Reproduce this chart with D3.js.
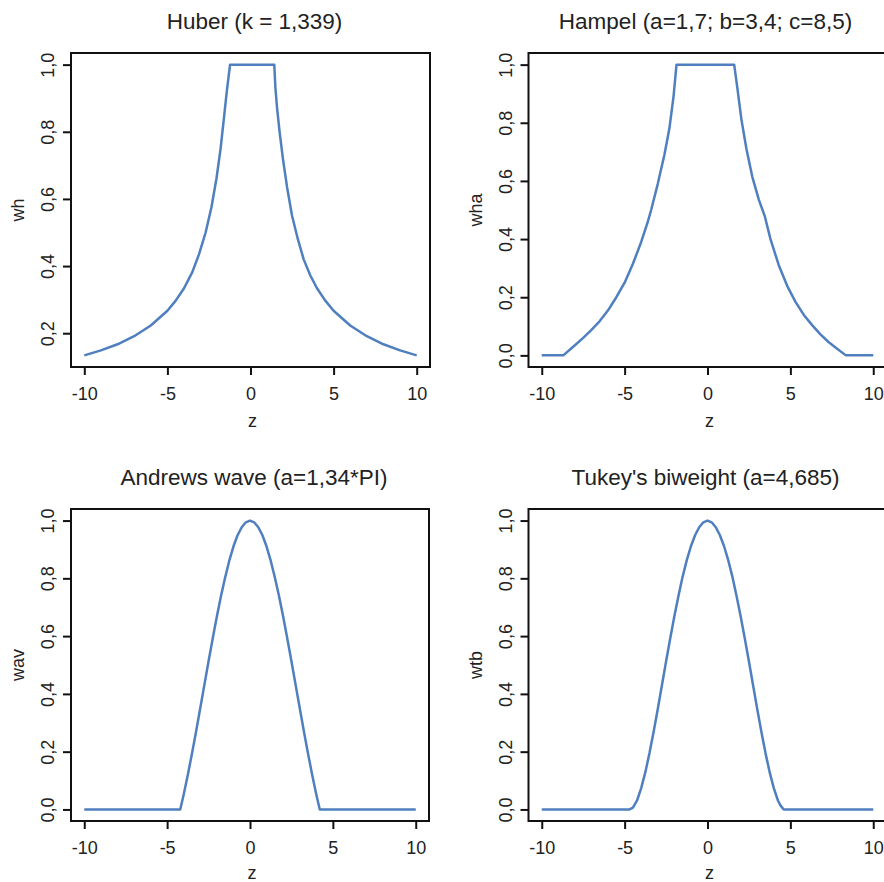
<!DOCTYPE html>
<html>
<head>
<meta charset="utf-8">
<script src="https://cdn.jsdelivr.net/npm/d3@7"></script>
<style>
  html, body { margin: 0; padding: 0; background: #fff; }
  svg { display: block; }
  text { font-family: "Liberation Sans", Arial, sans-serif; fill: #222; }
</style>
</head>
<body>
<svg id="chart" width="884" height="882"></svg>
<script>
// Weight functions of robust M-estimators, sampled along the standardized residual z.

// Huber (k = 1,339)
const zHuber = [-10, -9, -8, -7, -6, -5, -4.5, -4, -3.5, -3.1, -2.7, -2.35, -2.05, -1.8, -1.6, -1.45, -1.33, -1.23,
                1.43, 1.5, 1.6, 1.75, 1.95, 2.2, 2.5, 2.85, 3.2, 3.6, 4, 4.5, 5, 6, 7, 8, 9, 10];
const wHuber = [0.134, 0.149, 0.167, 0.191, 0.223, 0.267, 0.297, 0.334, 0.382, 0.435, 0.5, 0.575, 0.66, 0.75, 0.84, 0.91, 0.96, 1.0,
                1.0, 0.93, 0.87, 0.8, 0.72, 0.635, 0.55, 0.48, 0.42, 0.372, 0.334, 0.297, 0.267, 0.223, 0.191, 0.167, 0.149, 0.134];

// Hampel (a=1,7; b=3,4; c=8,5)
const zHampel = [-10, -8.7, -8, -7.5, -7, -6.5, -6, -5.5, -5, -4.5, -4, -3.6, -3.4, -3, -2.6, -2.3, -2.05, -1.87,
                 1.61, 1.8, 2.05, 2.35, 2.7, 3.1, 3.45, 3.8, 4.3, 4.8, 5.3, 5.8, 6.3, 6.8, 7.3, 7.8, 8.35, 10];
const wHampel = [0, 0, 0.035, 0.06, 0.088, 0.118, 0.155, 0.2, 0.25, 0.315, 0.39, 0.46, 0.5, 0.59, 0.69, 0.78, 0.89, 1.0,
                 1.0, 0.92, 0.81, 0.71, 0.615, 0.535, 0.48, 0.4, 0.31, 0.24, 0.185, 0.14, 0.105, 0.073, 0.046, 0.024, 0, 0];

// Andrews wave (a=1,34*PI)
const zAndrews = [-10, -4.21, -4, -3.75, -3.5, -3.25, -3, -2.75, -2.5, -2.25, -2, -1.75, -1.5, -1.25, -1, -0.75, -0.5, -0.25, 0,
                  0.25, 0.5, 0.75, 1, 1.25, 1.5, 1.75, 2, 2.25, 2.5, 2.75, 3, 3.25, 3.5, 3.75, 4, 4.21, 10];
const wAndrews = [0, 0, 0.052, 0.12, 0.194, 0.271, 0.351, 0.432, 0.513, 0.592, 0.668, 0.739, 0.803, 0.861, 0.91, 0.949, 0.977, 0.994, 1,
                  0.994, 0.977, 0.949, 0.91, 0.861, 0.803, 0.739, 0.668, 0.592, 0.513, 0.432, 0.351, 0.271, 0.194, 0.12, 0.052, 0, 0];

// Tukey's biweight (a=4,685)
const zTukey = [-10, -4.7, -4.5, -4.25, -4, -3.75, -3.5, -3.25, -3, -2.75, -2.5, -2.25, -2, -1.75, -1.5, -1.25, -1, -0.75, -0.5, -0.25, 0,
                0.25, 0.5, 0.75, 1, 1.25, 1.5, 1.75, 2, 2.25, 2.5, 2.75, 3, 3.25, 3.5, 3.75, 4, 4.25, 4.4, 4.6, 10];
const wTukey = [0, 0, 0.006, 0.031, 0.074, 0.129, 0.195, 0.269, 0.348, 0.43, 0.512, 0.592, 0.669, 0.74, 0.806, 0.863, 0.911, 0.949, 0.977, 0.994, 1,
                0.994, 0.977, 0.949, 0.911, 0.863, 0.806, 0.74, 0.669, 0.592, 0.512, 0.43, 0.348, 0.269, 0.195, 0.129, 0.074, 0.031, 0.014, 0, 0];

// Axis ticks
const xTicks = [-10, -5, 0, 5, 10];
const yTicksHuber = [0.2, 0.4, 0.6, 0.8, 1.0];
const yTicksUnit = [0.0, 0.2, 0.4, 0.6, 0.8, 1.0];

const titles = ["Huber (k = 1,339)", "Hampel (a=1,7; b=3,4; c=8,5)", "Andrews wave (a=1,34*PI)", "Tukey's biweight (a=4,685)"];
const yLabels = ["wh", "wha", "wav", "wtb"];
const xLabel = "z";

// Plot regions (frame of each panel)
const panels = [
  { z: zHuber,   w: wHuber,   yTicks: yTicksHuber, left: 71,    top: 53,  width: 359, height: 314, titleDx: 4,  xlabDy: 60 },
  { z: zHampel,  w: wHampel,  yTicks: yTicksUnit,  left: 528.5, top: 53,  width: 358, height: 314, titleDx: -2, xlabDy: 60 },
  { z: zAndrews, w: wAndrews, yTicks: yTicksUnit,  left: 71,    top: 509, width: 358, height: 312, titleDx: 4,  xlabDy: 58 },
  { z: zTukey,   w: wTukey,   yTicks: yTicksUnit,  left: 528.5, top: 509, width: 358, height: 312, titleDx: -2, xlabDy: 58 }
];

const locale = d3.formatLocale({ decimal: ",", thousands: ".", grouping: [3], currency: ["", ""], minus: "-" });
const fmtY = locale.format(".1f");
const fmtX = locale.format("d");

// R-style axis limits: data range extended by 4% on each side
function padded(ext) {
  const d = (ext[1] - ext[0]) * 0.04;
  return [ext[0] - d, ext[1] + d];
}

const svg = d3.select("#chart");
svg.append("rect").attr("width", 884).attr("height", 882).attr("fill", "#fff");

panels.forEach((p, i) => {
  const x = d3.scaleLinear().domain(padded(d3.extent(xTicks))).range([p.left, p.left + p.width]);
  const y = d3.scaleLinear().domain(padded(d3.extent(p.w))).range([p.top + p.height, p.top]);
  const g = svg.append("g");

  // curve
  const pts = p.z.map((z, k) => [z, p.w[k]]);
  g.append("path")
    .datum(pts)
    .attr("d", d3.line().x(d => x(d[0])).y(d => y(d[1])))
    .attr("fill", "none")
    .attr("stroke", "#4f7fbf")
    .attr("stroke-width", 2.5)
    .attr("stroke-linejoin", "round");

  // frame
  g.append("rect")
    .attr("x", p.left).attr("y", p.top)
    .attr("width", p.width).attr("height", p.height)
    .attr("fill", "none").attr("stroke", "#111").attr("stroke-width", 2);

  // x axis
  const ax = g.append("g")
    .attr("transform", `translate(0,${p.top + p.height})`)
    .call(d3.axisBottom(x).tickValues(xTicks).tickSize(8).tickFormat(fmtX));
  ax.select(".domain").remove();
  ax.selectAll(".tick line").attr("stroke", "#111").attr("stroke-width", 2);
  ax.selectAll(".tick text")
    .attr("y", 33).attr("dy", null)
    .attr("fill", "#222")
    .style("font-size", "18px");

  // y axis, labels parallel to the axis
  const ay = g.append("g")
    .attr("transform", `translate(${p.left},0)`)
    .call(d3.axisLeft(y).tickValues(p.yTicks).tickSize(8).tickFormat(fmtY));
  ay.select(".domain").remove();
  ay.selectAll(".tick line").attr("stroke", "#111").attr("stroke-width", 2);
  ay.selectAll(".tick text")
    .attr("transform", "rotate(-90)")
    .attr("x", 0).attr("y", -17).attr("dy", null)
    .attr("text-anchor", "middle")
    .attr("fill", "#222")
    .style("font-size", "18px");

  // title
  g.append("text")
    .attr("x", p.left + p.width / 2 + p.titleDx)
    .attr("y", p.top - 24.5)
    .attr("text-anchor", "middle")
    .style("font-size", "22.5px")
    .attr("fill", "#1a1a1a")
    .text(titles[i]);

  // axis titles
  g.append("text")
    .attr("x", p.left + p.width / 2 + 2)
    .attr("y", p.top + p.height + p.xlabDy)
    .attr("text-anchor", "middle")
    .style("font-size", "18px")
    .text(xLabel);

  g.append("text")
    .attr("transform", `translate(${p.left - 47},${p.top + p.height / 2}) rotate(-90)`)
    .attr("text-anchor", "middle")
    .style("font-size", "18px")
    .text(yLabels[i]);
});
</script>
</body>
</html>
